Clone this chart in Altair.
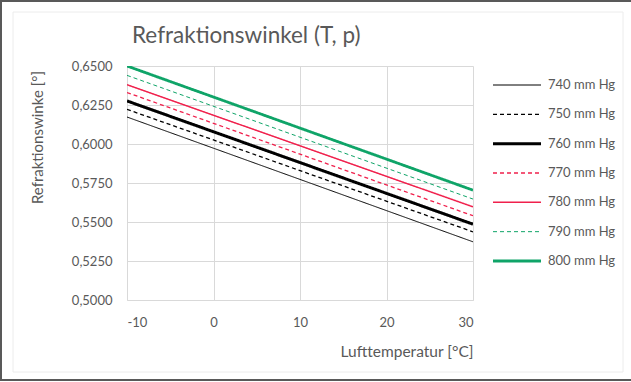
import altair as alt
import pandas as pd

# Refraction angle vs. air temperature for several air pressures
series = ["740 mm Hg", "750 mm Hg", "760 mm Hg", "770 mm Hg",
          "780 mm Hg", "790 mm Hg", "800 mm Hg"]
temps = [-10, 30]
angle_at_m10 = [0.6173, 0.6222, 0.6276, 0.6330, 0.6380, 0.6440, 0.6500]
angle_at_30 = [0.5373, 0.5437, 0.5486, 0.5540, 0.5597, 0.5647, 0.5704]

line_colors = ["#000000", "#000000", "#000000", "#f0204c",
               "#f0204c", "#0fa468", "#0fa468"]
line_dashes = [[1, 0], [4, 3], [1, 0], [4, 3], [1, 0], [4, 3], [1, 0]]
line_widths = [1.0, 1.3, 3.0, 1.3, 1.5, 1.0, 2.8]

y_ticks = [0.5, 0.525, 0.55, 0.575, 0.6, 0.625, 0.65]
x_ticks = [-10, 0, 10, 20, 30]

title_text = "Refraktionswinkel (T, p)"
y_title = "Refraktionswinke [°]"
x_title = "Lufttemperatur [°C]"

FONT = "Lato"
GREY = "#595959"
GRID = "#d9d9d9"

rows = []
for s, a0, a1 in zip(series, angle_at_m10, angle_at_30):
    rows.append({"series": s, "temp": temps[0], "angle": a0})
    rows.append({"series": s, "temp": temps[1], "angle": a1})
df = pd.DataFrame(rows)
legend_df = pd.DataFrame({"series": series})

color_enc = alt.Color("series:N", scale=alt.Scale(domain=series, range=line_colors), legend=None)
dash_enc = alt.StrokeDash("series:N", scale=alt.Scale(domain=series, range=line_dashes), legend=None)
width_enc = alt.StrokeWidth("series:N",
                            scale=alt.Scale(type="ordinal", domain=series, range=line_widths),
                            legend=None)

lines = alt.Chart(df).mark_line(clip=True).encode(
    x=alt.X("temp:Q",
            scale=alt.Scale(domain=[-10, 30], nice=False, zero=False),
            axis=alt.Axis(values=x_ticks, title=x_title, grid=True, gridColor=GRID,
                          domainColor=GRID, ticks=False, tickSize=0,
                          labelExpr="replace(format(datum.value, 'd'), '−', '-')",
                          labelPadding=16, labelFontSize=13, labelColor=GREY, labelFont=FONT,
                          titleFont=FONT, titleFontSize=15.5, titleFontWeight="normal",
                          titleColor=GREY, titleAnchor="end", titlePadding=15)),
    y=alt.Y("angle:Q",
            scale=alt.Scale(domain=[0.5, 0.65], nice=False, zero=False),
            axis=alt.Axis(values=y_ticks, title=y_title, grid=True, gridColor=GRID,
                          domain=False, ticks=False, tickSize=0,
                          labelExpr="replace(format(datum.value, '.4f'), '.', ',')",
                          labelPadding=15, labelFontSize=13, labelColor=GREY, labelFont=FONT,
                          titleFont=FONT, titleFontSize=15, titleFontWeight="normal",
                          titleColor=GREY, titleX=-90, titleY=71, titleAngle=270,
                          titleAlign="center", titleBaseline="middle")),
    color=color_enc,
    strokeDash=dash_enc,
    strokeWidth=width_enc,
    detail="series:N",
)

legend_y = alt.Y("series:N",
                 scale=alt.Scale(type="point", domain=series, range=[19, 195], padding=0),
                 axis=None)

legend_lines = alt.Chart(legend_df).mark_rule().encode(
    x=alt.value(366), x2=alt.value(414),
    y=legend_y,
    color=color_enc, strokeDash=dash_enc, strokeWidth=width_enc,
)

legend_text = alt.Chart(legend_df).mark_text(
    align="left", baseline="middle", font=FONT, fontSize=13, color=GREY
).encode(x=alt.value(421), y=legend_y, text="series:N")

title = alt.Chart(pd.DataFrame({"t": [title_text]})).mark_text(
    align="left", baseline="alphabetic", font=FONT, fontSize=22.5, color=GREY
).encode(x=alt.value(5), y=alt.value(-23), text="t:N")

frame_df = pd.DataFrame({"k": [0]})
inner_frame = alt.Chart(frame_df).mark_rect(filled=False, stroke="#ececec", strokeWidth=1).encode(
    x=alt.value(-114), x2=alt.value(496), y=alt.value(-54), y2=alt.value(306))
outer_frame = alt.Chart(frame_df).mark_rect(filled=False, stroke=GREY, strokeWidth=2).encode(
    x=alt.value(-126), x2=alt.value(520), y=alt.value(-65), y2=alt.value(314))

chart = alt.layer(
    lines, legend_lines, legend_text, title, inner_frame, outer_frame
).resolve_scale(y="independent").properties(
    width=346, height=234,
    autosize=alt.AutoSizeParams(type="none"),
    padding={"left": 127, "top": 66, "right": 158, "bottom": 82},
    background="white",
).configure_view(stroke=None)

chart.save("out.html", embed_options={"renderer": "svg", "actions": False})
